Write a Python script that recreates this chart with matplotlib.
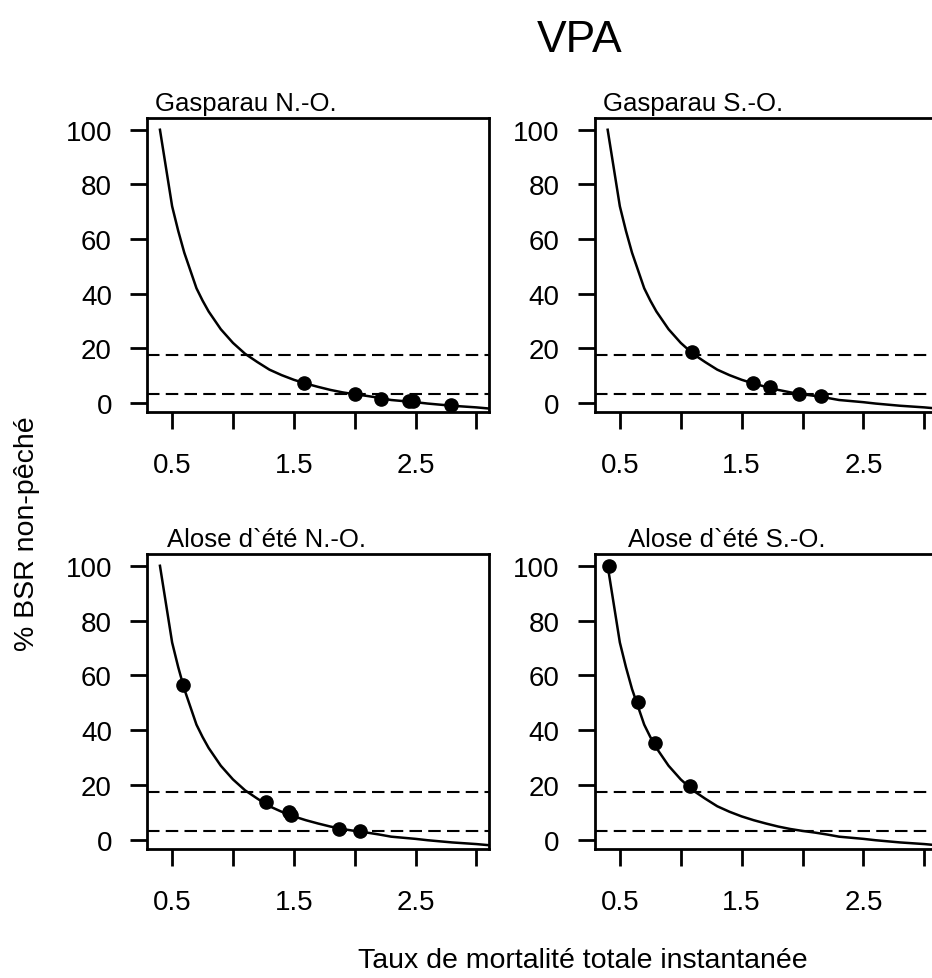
import numpy as np
import matplotlib
matplotlib.use("Agg")
import matplotlib.pyplot as plt

plt.rcParams['font.family'] = ['Liberation Sans', 'DejaVu Sans']

# courbe %BSR en fonction de Z
curve_z = [0.40, 0.45, 0.50, 0.55, 0.60, 0.65, 0.70, 0.75, 0.80, 0.90, 1.00, 1.10,
           1.20, 1.30, 1.40, 1.50, 1.60, 1.70, 1.80, 1.90, 2.00, 2.10, 2.20, 2.30,
           2.40, 2.50, 2.60, 2.70, 2.80, 2.90, 3.00, 3.15]
curve_spr = [100, 86, 72, 63, 55, 48.5, 42, 37.5, 33.5, 27, 22, 18,
             15, 12.2, 10.2, 8.5, 7.1, 5.9, 4.8, 3.9, 3.2, 2.6, 1.9, 1.1,
             0.7, 0.3, -0.2, -0.6, -1.0, -1.3, -1.6, -2.2]

ref_lines = [17.5, 3.3]

titles = ["Gasparau N.-O.", "Gasparau S.-O.", "Alose d`été N.-O.", "Alose d`été S.-O."]

pts_z = [
    [1.58, 2.00, 2.22, 2.45, 2.48, 2.79],
    [1.09, 1.59, 1.73, 1.975, 2.15],
    [0.59, 1.27, 1.46, 1.48, 1.87, 2.04],
    [0.41, 0.645, 0.79, 1.08],
]
pts_spr = [
    [7.3, 3.4, 1.6, 0.9, 0.7, -0.9],
    [18.8, 7.4, 5.8, 3.3, 2.4],
    [56.6, 13.6, 10.0, 8.9, 3.9, 3.1],
    [100, 50.1, 35.2, 19.5],
]

xticks = [0.5, 1.0, 1.5, 2.0, 2.5, 3.0]
xticklabels = ["0.5", "", "1.5", "", "2.5", ""]
yticks = [0, 20, 40, 60, 80, 100]

W, H = 932, 979
fig = plt.figure(figsize=(W / 100, H / 100), dpi=100)

# positions des panneaux en pixels: gauche, haut, droite, bas
boxes = [(147.3, 119, 489, 413.3), (595, 119, 937, 413.3),
         (147.3, 555, 489, 850), (595, 555, 937, 850)]
title_x = [0.023, 0.023, 0.058, 0.097]

for i in range(4):
    l, t, r, b = boxes[i]
    ax = fig.add_axes([l / W, 1 - b / H, (r - l) / W, (b - t) / H])
    ax.plot(curve_z, curve_spr, color='black', lw=1.8, zorder=2)
    for yv in ref_lines:
        ax.axhline(yv, color='black', lw=1.5, dashes=(6, 3), zorder=1)
    ax.plot(pts_z[i], pts_spr[i], 'o', color='black', ms=9.5, zorder=3)
    ax.set_xlim(0.296, 3.104)
    ax.set_ylim(-3.4, 104.3)
    ax.set_xticks(xticks)
    ax.set_xticklabels(xticklabels)
    ax.set_yticks(yticks)
    ax.tick_params(axis='both', direction='out', length=12.5, width=2, labelsize=20)
    ax.tick_params(axis='x', pad=16)
    ax.tick_params(axis='y', pad=13)
    for s in ax.spines.values():
        s.set_linewidth(2)
    ax.text(title_x[i], 1.01, titles[i], transform=ax.transAxes, ha='left', va='bottom',
            fontsize=18.5)

fig.text(580 / W, 1 - 40 / H, "VPA", ha='center', va='center', fontsize=32)
fig.text(583 / W, 1 - 961 / H, "Taux de mortalité totale instantanée", ha='center',
         va='center', fontsize=20.5)
fig.text(26.7 / W, 1 - 533.5 / H, "% BSR non-pêché", ha='center', va='center',
         rotation=90, fontsize=20.5)

plt.savefig("out.png", dpi=100)
